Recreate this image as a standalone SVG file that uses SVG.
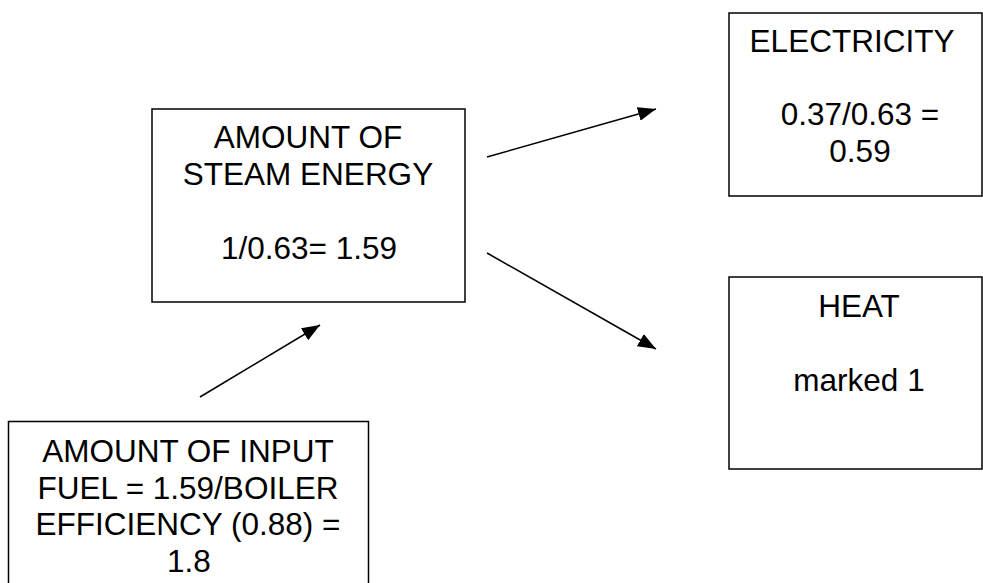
<svg xmlns="http://www.w3.org/2000/svg" width="983" height="583" viewBox="0 0 983 583">
<defs>
<style>
.box{fill:#fff;stroke:#000;stroke-width:1.5}
.t{font-family:"Liberation Sans",Arial,sans-serif;font-size:31.5px;fill:#000;text-anchor:middle}
.c{stroke:#000;stroke-width:1.6;fill:none;marker-end:url(#ah)}
</style>
<marker id="ah" markerUnits="userSpaceOnUse" viewBox="0 0 18 14" refX="18" refY="7" markerWidth="18" markerHeight="14" orient="auto">
<path d="M0,0 L18,7 L0,14 Z" fill="#000"/>
</marker>
</defs>
<rect width="983" height="583" fill="#fff"/>
<g id="connectors">
<line class="c" x1="487" y1="157" x2="656" y2="109"/>
<line class="c" x1="487" y1="253" x2="656" y2="349"/>
<line class="c" x1="200" y1="397" x2="320" y2="325"/>
</g>
<g id="steam">
<rect class="box" x="152" y="109" width="313" height="193"/>
<text class="t" x="308" y="148">AMOUNT OF</text>
<text class="t" x="308" y="185">STEAM ENERGY</text>
<text class="t" x="309" y="259">1/0.63= 1.59</text>
</g>
<g id="electricity">
<rect class="box" x="729" y="13" width="253" height="183"/>
<text class="t" x="852" y="52">ELECTRICITY</text>
<text class="t" x="860" y="125">0.37/0.63 =</text>
<text class="t" x="860" y="162">0.59</text>
</g>
<g id="heat">
<rect class="box" x="729" y="277" width="253" height="192"/>
<text class="t" x="859" y="317">HEAT</text>
<text class="t" x="859" y="391">marked 1</text>
</g>
<g id="input">
<rect class="box" x="8.5" y="421.5" width="360" height="170"/>
<text class="t" x="188" y="462">AMOUNT OF INPUT</text>
<text class="t" x="188" y="498.5">FUEL = 1.59/BOILER</text>
<text class="t" x="188" y="535">EFFICIENCY (0.88) =</text>
<text class="t" x="189" y="572">1.8</text>
</g>
</svg>
